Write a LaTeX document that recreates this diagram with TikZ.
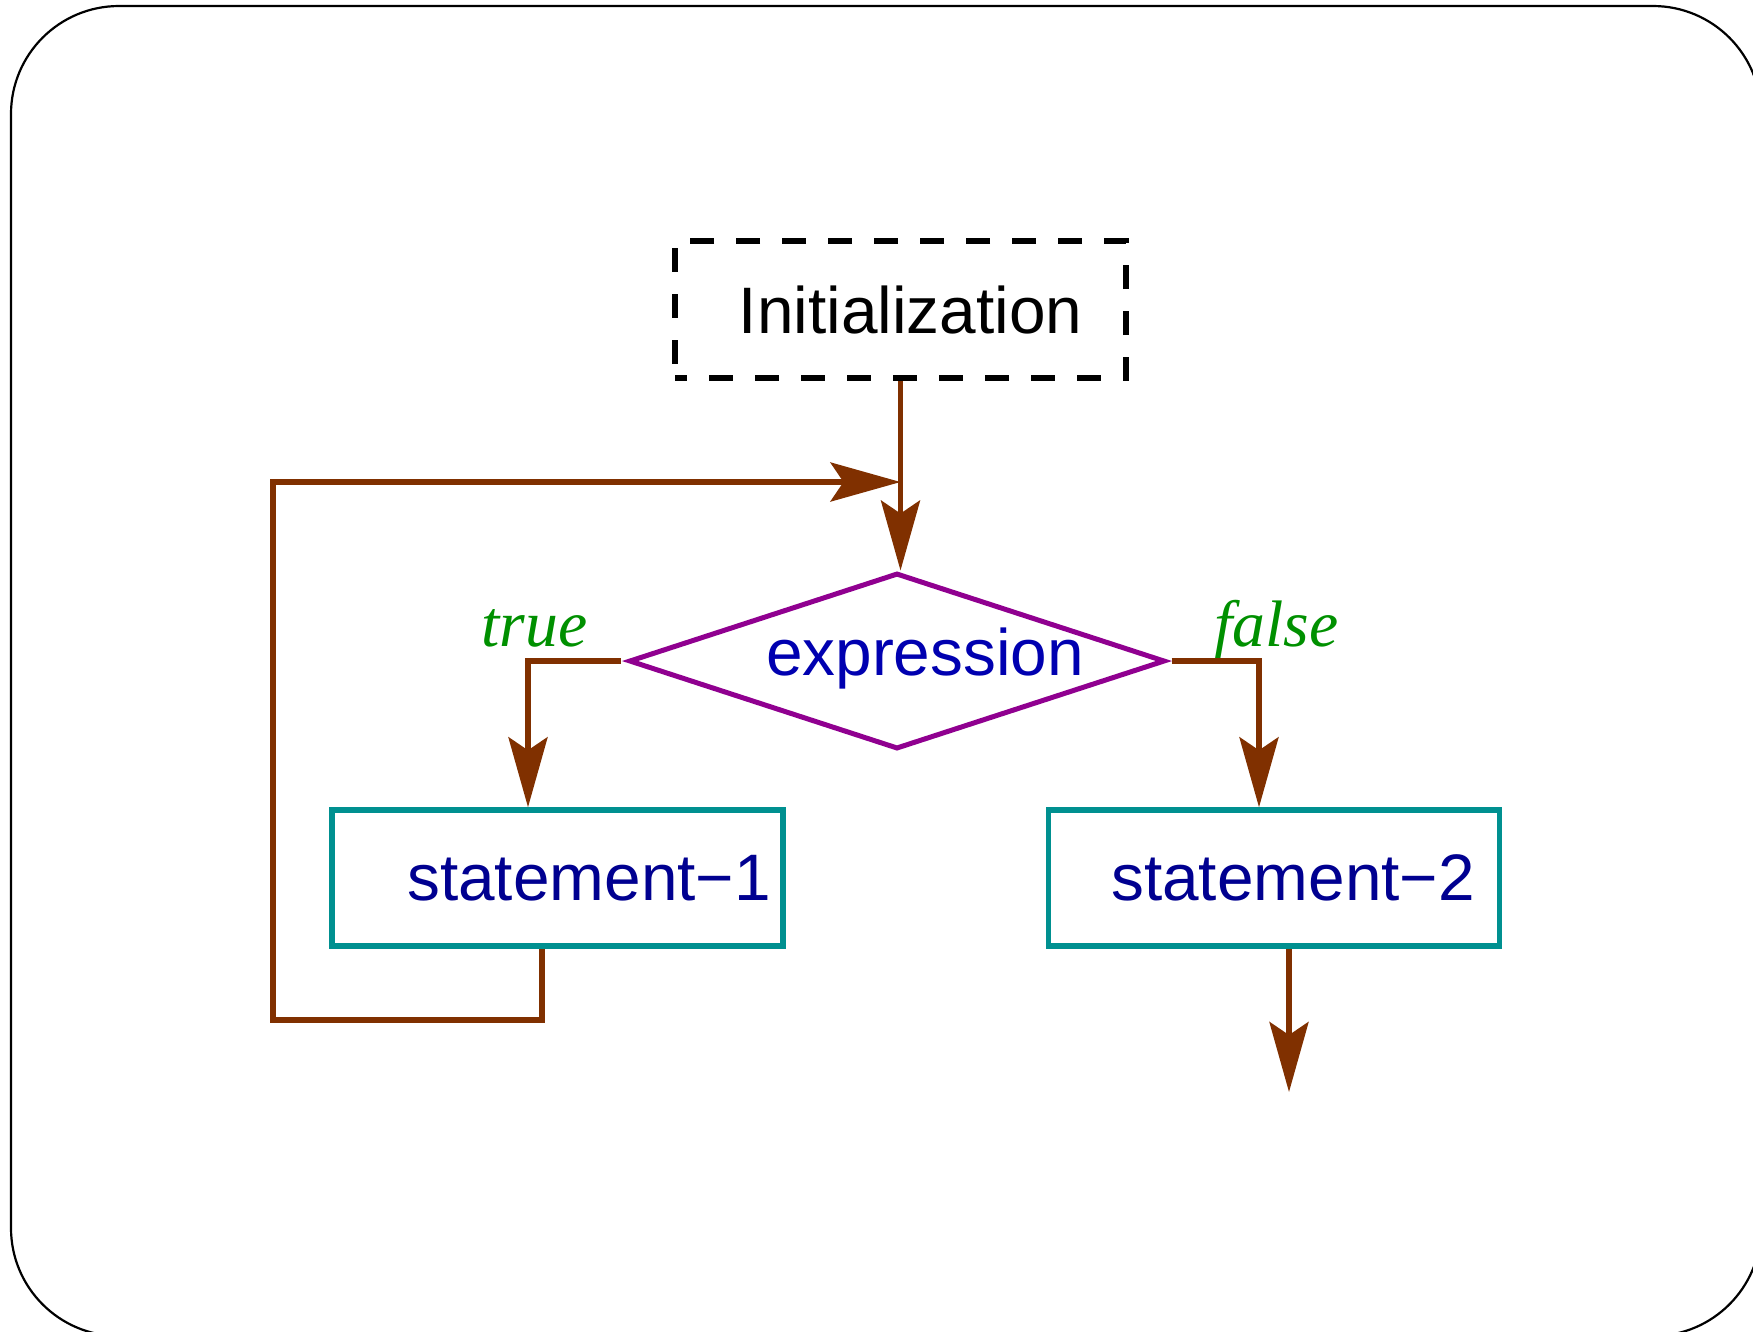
\documentclass[tikz,border=0pt]{standalone}
\usepackage{fontspec}
\usetikzlibrary{arrows.meta,shapes.geometric}
\newfontfamily\sansf{Liberation Sans}
\newfontfamily\seriff{Liberation Serif}
\definecolor{cbrown}{HTML}{803000}
\definecolor{cpurple}{HTML}{900090}
\definecolor{cteal}{HTML}{009090}
\definecolor{cblueA}{HTML}{0000B0}
\definecolor{cblueB}{HTML}{000090}
\definecolor{cgreen}{HTML}{009000}
\tikzset{
  bigtext/.style={font=\sansf\fontsize{18.7pt}{22pt}\selectfont},
  itext/.style={font=\seriff\itshape\fontsize{18.7pt}{22pt}\selectfont, text=cgreen, inner sep=0pt},
  initbox/.style={draw=black, line width=0.55mm, dash pattern=on 2.4mm off 2.2mm, dash phase=1.2mm,
    minimum width=45.1mm, minimum height=13.7mm, inner sep=0pt},
  stmtbox/.style={draw=cteal, line width=0.55mm, minimum width=45.1mm, minimum height=13.6mm, inner sep=0pt},
  decbox/.style={diamond, draw=cpurple, line width=0.5mm, minimum width=53.6mm, minimum height=17.6mm, inner sep=0pt},
  arr/.style={draw=cbrown, line width=0.55mm, -{Stealth[length=7mm, width=3.9mm, inset=1.3mm]}},
}
\begin{document}
\begin{tikzpicture}[x=0.1mm, y=-0.1mm]
\useasboundingbox (0,0) rectangle (1753,1331);
\draw[line width=0.22mm, rounded corners=10.8mm] (11,6) rectangle (1761,1336);

\node[initbox, label={[bigtext, xshift=1.0mm]center:Initialization}] (init) at (900.5,309.5) {};
\node[decbox, label={[bigtext, text=cblueA, xshift=2.8mm, yshift=0.25mm]center:expression}] (dia) at (897,661) {};
\node[stmtbox, label={[bigtext, text=cblueB, xshift=3.15mm]center:statement−1}] (s1) at (557.5,878) {};
\node[stmtbox, label={[bigtext, text=cblueB, xshift=1.9mm]center:statement−2}] (s2) at (1274,878) {};

\node[itext, anchor=base east] (ttrue) at (588,646) {true};
\node[itext, anchor=base east] (tfalse) at (1339,646) {false};

\coordinate (j) at (900.5,482);
\coordinate (lb) at (273,1020);
\coordinate (exitend) at (1289,1092);

\draw[arr] (init.south) -- (init.south |- dia.north);
\draw[arr] ([xshift=-0.6mm]dia.west) -| ([xshift=-2.95mm]s1.north);
\draw[arr] ([xshift=0.4mm]dia.east) -| ([xshift=-1.5mm]s2.north);
\draw[arr] ([xshift=-1.55mm]s1.south) |- (lb) |- (j);
\draw[arr] (s2.south -| exitend) -- (exitend);
\end{tikzpicture}
\end{document}
